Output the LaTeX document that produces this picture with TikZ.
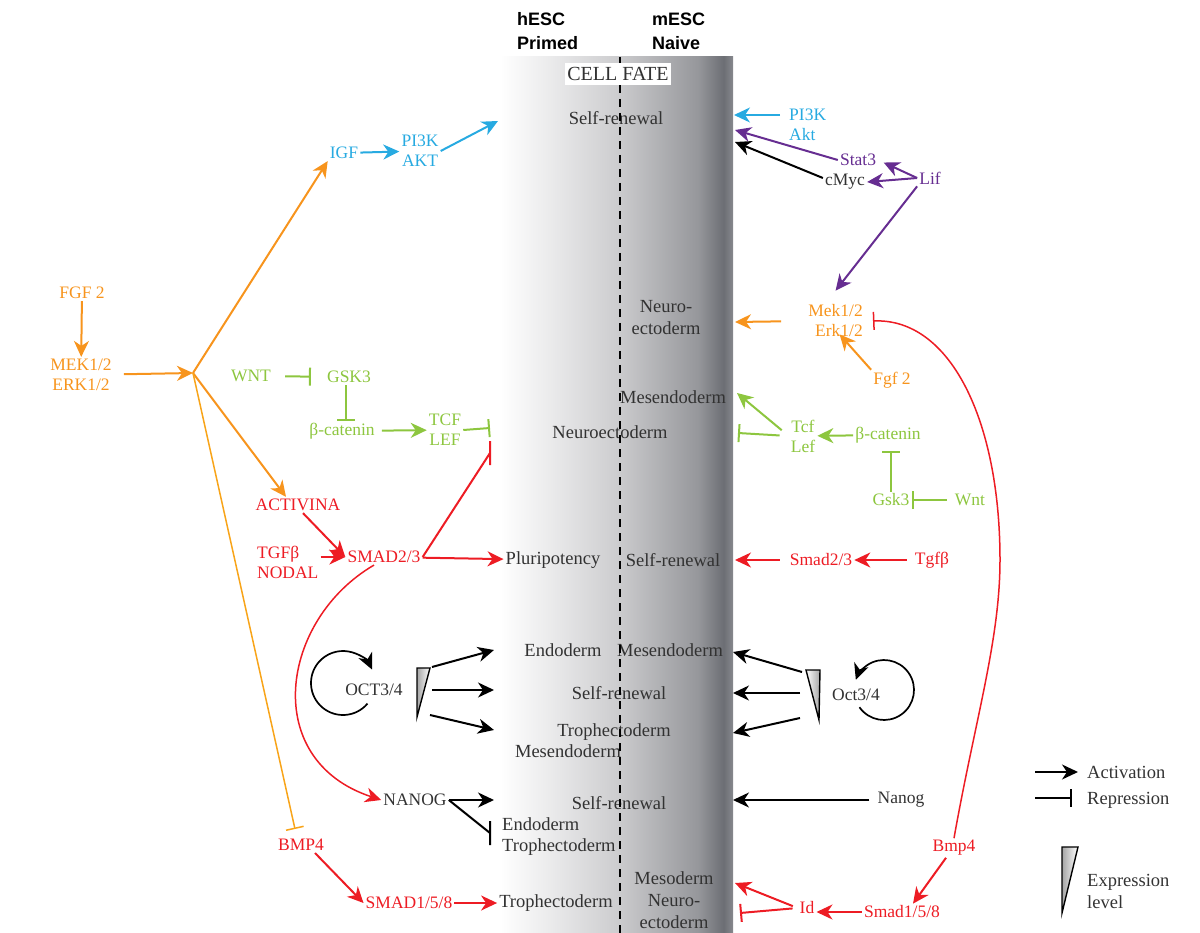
\documentclass[tikz,border=0pt]{standalone}
\usepackage{fontspec}
\setmainfont{Liberation Serif}
\newfontfamily\hdrfont{Liberation Sans}
\usepackage{xcolor}
\usetikzlibrary{arrows.meta, calc}

\definecolor{fgforange}{RGB}{247,148,29}
\definecolor{aktblue}{RGB}{39,170,225}
\definecolor{wntgreen}{RGB}{141,198,63}
\definecolor{tgfred}{RGB}{237,28,36}
\definecolor{lifpurple}{RGB}{102,45,145}
\definecolor{fatetext}{RGB}{50,50,50}
\definecolor{bandA}{RGB}{234,234,235}
\definecolor{bandB}{RGB}{205,205,207}
\definecolor{bandC}{RGB}{150,151,155}
\definecolor{bandD}{RGB}{108,110,116}
\definecolor{bandE}{RGB}{135,137,142}
% the middle half (25bp--75bp) is what lands on the path
\pgfdeclarehorizontalshading{fateband}{100bp}{color(0bp)=(white); color(25bp)=(white); color(36bp)=(bandA); color(50bp)=(bandB); color(67.5bp)=(bandC); color(73bp)=(bandD); color(75bp)=(bandE); color(100bp)=(bandE)}

\begin{document}
\begin{tikzpicture}[x=1pt, y=-1pt,
    fate/.style={font=\fontsize{18.5}{22}\selectfont, text=fatetext, inner sep=2pt, align=center},
    sig/.style={font=\fontsize{17.5}{20}\selectfont, inner sep=2pt, align=center},
    hdr/.style={font=\hdrfont\bfseries\fontsize{18}{24}\selectfont, align=left, inner sep=0pt, anchor=west},
    act/.style={-{Stealth[length=16pt,width=15pt,inset=5pt]}, line width=2pt},
    inh/.style={-{Bar[width=18pt]}, line width=2pt},
    tee/.style={line width=2pt},
    wedge/.style={draw=black, line width=1.4pt, left color=gray!70, right color=white},
    rwedge/.style={draw=black, line width=1.4pt, left color=white, right color=gray!70}
]
    \useasboundingbox (0,0) rectangle (1200,933);

    % Cell fate band
    \shade[shading=fateband] (500,57) rectangle (733,933);
    \node[hdr] (hesc) at (517,31) {hESC\\Primed};
    \node[hdr] (mesc) at (652,31) {mESC\\Naive};

    % Cell fates
    \node[fate] (sr1) at (616,118) {Self-renewal};
    \node[fate] (neuro1) at (666,318) {Neuro-\\ectoderm};
    \node[fate] (mesendo1) at (673,397) {Mesendoderm};
    \node[fate] (neuroecto) at (610,432) {Neuroectoderm};
    \node[fate] (pluri) at (553,560) {Pluripotency};
    \node[fate] (sr2) at (673,560) {Self-renewal};
    \node[fate] (endo1) at (563,650) {Endoderm};
    \node[fate] (mesendo2) at (670,650) {Mesendoderm};
    \node[fate] (sr3) at (619,693) {Self-renewal};
    \node[fate] (troph1) at (614,732) {Trophectoderm};
    \node[fate] (mesendo3) at (568,751) {Mesendoderm};
    \node[fate] (sr4) at (619,803) {Self-renewal};
    \node[fate, align=left, anchor=west, font=\fontsize{18.5}{21}\selectfont] (endotroph) at (500,837) {Endoderm\\Trophectoderm};
    \node[fate] (troph3) at (556,903) {Trophectoderm};
    \node[fate] (mesoneuro) at (674,900) {Mesoderm\\Neuro-\\ectoderm};

    \draw[line width=2.2pt, dash pattern=on 8pt off 6pt] (620,57) -- (620,933);
    \node[fill=white, inner xsep=2pt, inner ysep=4pt, font=\fontsize{20}{22}\selectfont, text=fatetext] (cellfate) at (618,74) {CELL FATE};

    % hESC signalling
    \node[sig, text=fgforange] (fgfL) at (82,293) {FGF 2};
    \node[sig, text=fgforange] (mekL) at (81,375) {MEK1/2\\ERK1/2};
    \coordinate (hub) at (193,373);
    \node[sig, text=aktblue] (igfL) at (344,153) {IGF};
    \node[sig, text=aktblue] (pi3kL) at (420,151) {PI3K\\AKT};
    \node[sig, text=wntgreen] (wntL) at (251,376) {WNT};
    \node[sig, text=wntgreen] (gskL) at (349,377) {GSK3};
    \node[sig, text=wntgreen] (bcatL) at (342,431) {β-catenin};
    \node[sig, text=wntgreen] (tcfL) at (445,430) {TCF\\LEF};
    \node[sig, text=tgfred] (actL) at (298,505) {ACTIVINA};
    \node[sig, text=tgfred, align=left, anchor=west] (tgfL) at (255,562) {TGFβ\\NODAL};
    \node[sig, text=tgfred] (smadL) at (384,557) {SMAD2/3};
    \node[sig, text=fatetext] (octL) at (374,690) {OCT3/4};
    \node[sig, text=fatetext] (nanogL) at (415,800) {NANOG};
    \node[sig, text=tgfred] (bmpL) at (301,845) {BMP4};
    \node[sig, text=tgfred] (smad158L) at (409,903) {SMAD1/5/8};

    \coordinate (bLsr) at (498,121);
    \coordinate (bLtcf) at (490,428);
    \coordinate (bLsm) at (490,453);
    \coordinate (oL1) at (432,667);
    \coordinate (oL2) at (432,690);
    \coordinate (oL3) at (430,715);
    \coordinate (bLendo) at (494,650);
    \coordinate (bLsr3) at (494,690);
    \coordinate (bLtro) at (494,730);
    \coordinate (bLnan) at (494,800);
    \coordinate (bLnb) at (490,833);
    \coordinate (octLc) at (343,683);

    \draw[act, fgforange] (fgfL) -- (mekL);
    \draw[act, fgforange, shorten <=10pt] (mekL) -- (hub);
    \draw[act, fgforange] (hub) -- (igfL.south west);
    \draw[act, fgforange] (hub) -- ([xshift=-12pt]actL.north);
    \draw[inh, fgforange!85!yellow, line width=1.5pt] (hub) -- ([xshift=-6pt,yshift=8pt]bmpL.north);
    \draw[act, aktblue] (igfL) -- (pi3kL);
    \draw[act, aktblue] (pi3kL.east) -- (bLsr);
    \draw[inh, wntgreen, shorten <=12pt, shorten >=14pt] (wntL) -- (gskL);
    \draw[inh, wntgreen] ([xshift=-3pt]gskL.south) -- ([xshift=-3pt]gskL.south |- bcatL.north);
    \draw[act, wntgreen, shorten <=5pt] (bcatL) -- (tcfL);
    \draw[inh, wntgreen] (tcfL.east) -- (bLtcf);
    \draw[act, tgfred] ([xshift=5pt]actL.south) -- (smadL.west);
    \draw[act, tgfred] (tgfL.east |- smadL.west) -- (smadL.west);
    \draw[act, tgfred] (smadL) -- (pluri);
    \draw[tee, tgfred] (smadL.east) -- (bLsm) ++(0,-12) -- ++(0,24);
    \draw[act, tgfred, line width=1.5pt] ([xshift=-10pt]smadL.south) .. controls (280,620) and (260,760) .. (nanogL.west);
    \draw[act, line width=1.7pt] (octLc) ++(40:32) arc[start angle=40, end angle=335, radius=32];
    \draw[wedge] (417,668) -- (430,668) -- (417,717) -- cycle;
    \draw[act] (oL1) -- (bLendo);
    \draw[act] (oL2) -- (bLsr3);
    \draw[act] (oL3) -- (bLtro);
    \draw[act] (nanogL.east) -- (bLnan);
    \draw[tee] (nanogL.east) -- (bLnb) ++(0,-12) -- ++(0,24);
    \draw[act, tgfred] ([xshift=14pt]bmpL.south) -- (smad158L.west);
    \draw[act, tgfred] (smad158L) -- (troph3);

    % mESC signalling
    \node[sig, text=aktblue, align=left, anchor=west] (pi3kR) at (787,125) {PI3K\\Akt};
    \node[sig, text=lifpurple] (stat3) at (858,160) {Stat3};
    \node[sig, text=fatetext] (cmyc) at (845,182) {cMyc};
    \node[sig, text=lifpurple] (lif) at (930,178) {Lif};
    \node[sig, text=fgforange, align=right, anchor=east] (mekR) at (865,321) {Mek1/2\\Erk1/2};
    \node[sig, text=fgforange] (fgfR) at (892,380) {Fgf 2};
    \node[sig, text=wntgreen] (tcfR) at (803,436) {Tcf\\Lef};
    \node[sig, text=wntgreen] (bcatR) at (888,435) {β-catenin};
    \node[sig, text=wntgreen] (gskR) at (891,500) {Gsk3};
    \node[sig, text=wntgreen] (wntR) at (970,500) {Wnt};
    \node[sig, text=tgfred] (smadR) at (821,560) {Smad2/3};
    \node[sig, text=tgfred] (tgfR) at (932,560) {Tgfβ};
    \node[sig, text=fatetext] (octR) at (856,695) {Oct3/4};
    \node[sig, text=fatetext] (nanogR) at (901,800) {Nanog};
    \node[sig, text=tgfred] (bmpR) at (954,848) {Bmp4};
    \node[sig, text=tgfred] (smad158R) at (902,912) {Smad1/5/8};
    \node[sig, text=tgfred] (idR) at (807,908) {Id};

    \coordinate (bRpi) at (734,115);
    \coordinate (bRst) at (735,130);
    \coordinate (bRmy) at (735,142);
    \coordinate (bRne) at (735,322);
    \coordinate (bRme) at (737,393);
    \coordinate (bRbar) at (738,433);
    \coordinate (bRsm) at (735,560);
    \coordinate (oR1) at (802,672);
    \coordinate (oR2) at (800,693);
    \coordinate (oR3) at (800,718);
    \coordinate (bRo1) at (733,652);
    \coordinate (bRo2) at (733,693);
    \coordinate (bRo3) at (733,733);
    \coordinate (bRna) at (733,800);
    \coordinate (bRid1) at (735,883);
    \coordinate (bRid2) at (740,913);
    \coordinate (octRc) at (884,690);

    \draw[act, aktblue, shorten <=7pt] ([yshift=10pt]pi3kR.west) -- (bRpi);
    \draw[act, lifpurple] (stat3.west) -- (bRst);
    \draw[act] ([yshift=4pt]cmyc.west) -- (bRmy);
    \draw[act, lifpurple, shorten >=6pt] (lif.west) -- (stat3.east);
    \draw[act, lifpurple] (lif.west) -- (cmyc.east);
    \draw[act, lifpurple] (lif.south west) -- ([yshift=12pt]mekR.north);
    \draw[act, fgforange, shorten <=25pt] (mekR.west) -- (bRne);
    \draw[act, fgforange] (fgfR.north west) -- ([xshift=4pt,yshift=5pt]mekR.south);
    \draw[inh, tgfred, line width=1.5pt] (bmpR.north) .. controls (975,720) and (1000,640) .. (1000,560)
        .. controls (1000,420) and (950,318) .. ([xshift=8pt]mekR.east);
    \draw[act, wntgreen, shorten <=9pt] (tcfR.west) -- (bRme);
    \draw[inh, wntgreen, shorten <=9pt] (tcfR.west) -- (bRbar);
    \draw[act, wntgreen] (bcatR) -- (tcfR);
    \draw[inh, wntgreen, shorten >=6pt] (gskR.north) -- (gskR.north |- bcatR.south);
    \draw[inh, wntgreen, shorten <=6pt] (wntR) -- (gskR);
    \draw[act, tgfred, shorten <=6pt] (tgfR) -- (smadR);
    \draw[act, tgfred, shorten <=8pt] (smadR) -- (bRsm);
    \draw[rwedge] (806,670) -- (820,670) -- (819,720) -- cycle;
    \draw[act, line width=1.7pt] (octRc) ++(145:30) arc[start angle=145, end angle=-160, radius=30];
    \draw[act] (oR1) -- (bRo1);
    \draw[act] (oR2) -- (bRo2);
    \draw[act] (oR3) -- (bRo3);
    \draw[act, shorten <=6pt] (nanogR) -- (bRna);
    \draw[act, tgfred] ([xshift=-8pt]bmpR.south) -- ([xshift=11pt]smad158R.north);
    \draw[act, tgfred] (smad158R.west) -- (idR.east |- smad158R.west);
    \draw[act, tgfred, shorten <=5pt] (idR.west) -- (bRid1);
    \draw[inh, tgfred, shorten <=5pt] (idR.west) -- (bRid2);

    % Legend
    \node[fate, text=black!80, anchor=west] (actLeg) at (1085,772) {Activation};
    \node[fate, text=black!80, anchor=west] (repLeg) at (1085,800) {Repression};
    \node[fate, text=black!80, anchor=west, align=left] (expLeg) at (1085,891) {Expression\\level};
    \coordinate (legA) at (1035,772);
    \coordinate (legR) at (1035,798);
    \draw[act] (legA) -- ([xshift=-7pt]actLeg.west);
    \draw[inh] (legR) -- ([xshift=-13pt]repLeg.west |- legR);
    \draw[wedge] (1062,847) -- (1078,847) -- (1062,913) -- cycle;
\end{tikzpicture}
\end{document}
